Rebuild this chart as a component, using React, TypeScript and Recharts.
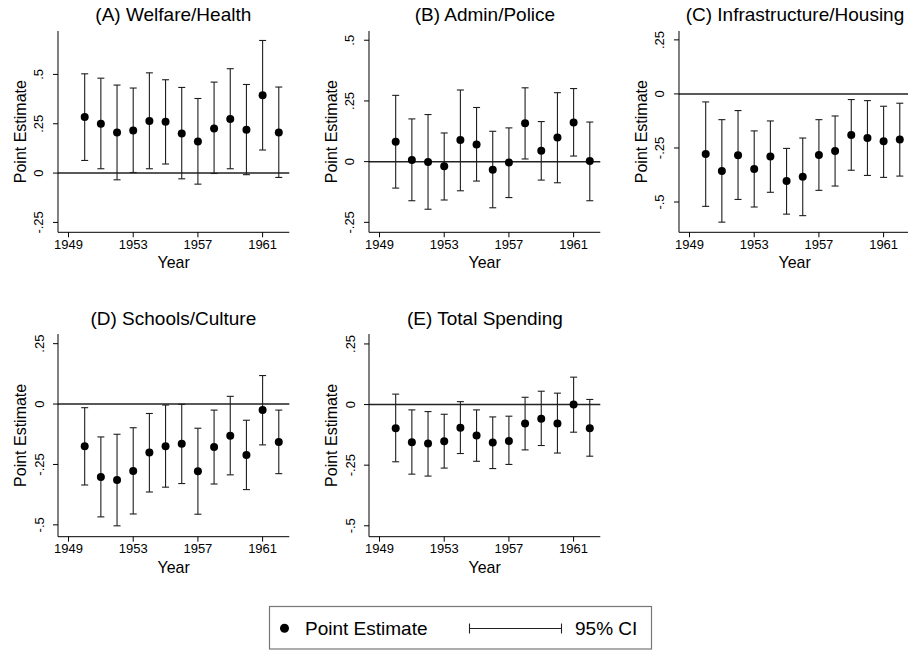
import React from 'react';
import { ScatterChart, Scatter, XAxis, YAxis, ErrorBar, ReferenceLine } from 'recharts';

// Years shared by every panel
const years = [1950, 1951, 1952, 1953, 1954, 1955, 1956, 1957, 1958, 1959, 1960, 1961, 1962];
const xTicks = [1949, 1953, 1957, 1961];

// (A) Welfare/Health
const estA = [0.284, 0.25, 0.206, 0.216, 0.264, 0.26, 0.201, 0.16, 0.226, 0.274, 0.22, 0.395, 0.206];
const loA = [0.064, 0.022, -0.034, 0.003, 0.022, 0.046, -0.029, -0.056, -0.002, 0.022, -0.008, 0.117, -0.022];
const hiA = [0.503, 0.481, 0.446, 0.431, 0.508, 0.473, 0.434, 0.378, 0.461, 0.529, 0.449, 0.672, 0.436];

// (B) Admin/Police
const estB = [0.082, 0.007, -0.001, -0.019, 0.089, 0.071, -0.033, -0.004, 0.158, 0.045, 0.099, 0.161, 0.003];
const loB = [-0.109, -0.161, -0.196, -0.158, -0.12, -0.08, -0.19, -0.148, 0.011, -0.076, -0.087, 0.023, -0.161];
const hiB = [0.273, 0.176, 0.194, 0.118, 0.295, 0.223, 0.125, 0.139, 0.304, 0.165, 0.284, 0.301, 0.163];

// (C) Infrastructure/Housing
const estC = [-0.278, -0.356, -0.284, -0.347, -0.29, -0.403, -0.383, -0.282, -0.264, -0.19, -0.204, -0.219, -0.211];
const loC = [-0.52, -0.593, -0.488, -0.523, -0.455, -0.556, -0.563, -0.446, -0.426, -0.353, -0.377, -0.386, -0.38];
const hiC = [-0.037, -0.119, -0.077, -0.171, -0.125, -0.252, -0.204, -0.119, -0.102, -0.026, -0.031, -0.057, -0.043];

// (D) Schools/Culture
const estD = [-0.175, -0.302, -0.314, -0.277, -0.2, -0.175, -0.164, -0.278, -0.178, -0.131, -0.211, -0.025, -0.157];
const loD = [-0.335, -0.467, -0.504, -0.455, -0.364, -0.344, -0.329, -0.456, -0.331, -0.293, -0.354, -0.169, -0.288];
const hiD = [-0.015, -0.136, -0.125, -0.098, -0.039, -0.004, -0.001, -0.1, -0.025, 0.032, -0.067, 0.118, -0.025];

// (E) Total Spending
const estE = [-0.098, -0.155, -0.161, -0.151, -0.096, -0.128, -0.157, -0.15, -0.078, -0.059, -0.078, 0.0, -0.098];
const loE = [-0.236, -0.287, -0.295, -0.262, -0.202, -0.234, -0.264, -0.247, -0.187, -0.169, -0.2, -0.114, -0.213];
const hiE = [0.043, -0.022, -0.029, -0.04, 0.012, -0.022, -0.051, -0.048, 0.03, 0.055, 0.047, 0.113, 0.021];

const ticksHigh = [-0.25, 0, 0.25, 0.5];
const ticksLow = [-0.5, -0.25, 0, 0.25];

const FONT = '"Liberation Sans", Arial, sans-serif';
const PLOT_W = 231.3;
const Y_AXIS_W = 58;
const X_AXIS_H = 48;

const panels = [
  { title: '(A) Welfare/Health', est: estA, lo: loA, hi: hiA, domain: [-0.30, 0.72], ticks: ticksHigh, plotLeft: 57.7, plotTop: 30.7, plotBottom: 232, titleTop: 5 },
  { title: '(B) Admin/Police', est: estB, lo: loB, hi: hiB, domain: [-0.291, 0.538], ticks: ticksHigh, plotLeft: 369.3, plotTop: 30.7, plotBottom: 232, titleTop: 5 },
  { title: '(C) Infrastructure/Housing', est: estC, lo: loC, hi: hiC, domain: [-0.64, 0.291], ticks: ticksLow, plotLeft: 679.3, plotTop: 30.7, plotBottom: 232, titleTop: 5 },
  { title: '(D) Schools/Culture', est: estD, lo: loD, hi: hiD, domain: [-0.549, 0.29], ticks: ticksLow, plotLeft: 57.7, plotTop: 334.3, plotBottom: 537, titleTop: 309 },
  { title: '(E) Total Spending', est: estE, lo: loE, hi: hiE, domain: [-0.545, 0.291], ticks: ticksLow, plotLeft: 369.3, plotTop: 334.3, plotBottom: 537, titleTop: 309 },
];

// Stata style: ".25", "-.5", "0"
const fmt = (v: number) => (v === 0 ? '0' : String(v).replace('0.', '.'));

const YTick = (props: any) => {
  const { x, y, payload } = props;
  return (
    <text transform={`translate(${x},${y}) rotate(-90)`} textAnchor="middle" fontSize={13} fontFamily={FONT} fill="#000">
      {fmt(payload.value)}
    </text>
  );
};

const XTick = (props: any) => {
  const { x, y, payload } = props;
  return (
    <text x={x} y={y + 9.5} textAnchor="middle" fontSize={13} fontFamily={FONT} fill="#000">
      {payload.value}
    </text>
  );
};

const Dot = (props: any) => <circle cx={props.cx} cy={props.cy} r={4} fill="#000" />;

function Panel({ p }: { p: typeof panels[number] }) {
  const data = years.map((year, i) => ({
    year,
    est: p.est[i],
    err: [p.est[i] - p.lo[i], p.hi[i] - p.est[i]],
  }));
  const chartLeft = p.plotLeft - Y_AXIS_W;
  const width = Y_AXIS_W + PLOT_W + 12;
  const height = p.plotBottom - p.plotTop + X_AXIS_H;

  return (
    <>
      <div
        style={{
          position: 'absolute',
          left: p.plotLeft,
          width: PLOT_W,
          top: p.titleTop,
          textAlign: 'center',
          fontFamily: FONT,
          fontSize: 19,
          lineHeight: '19px',
          whiteSpace: 'nowrap',
        }}
      >
        {p.title}
      </div>
      <div style={{ position: 'absolute', left: chartLeft, top: p.plotTop }}>
        <ScatterChart width={width} height={height} margin={{ top: 0, right: width - Y_AXIS_W - PLOT_W, bottom: 0, left: 0 }}>
          <XAxis
            type="number"
            dataKey="year"
            domain={[1948.35, 1962.65]}
            ticks={xTicks}
            allowDataOverflow
            height={X_AXIS_H}
            stroke="#000"
            tickSize={5}
            tick={<XTick />}
            label={{
              content: (lp: any) => {
                const vb = lp.viewBox;
                return (
                  <text x={vb.x + vb.width / 2} y={vb.y + 36} textAnchor="middle" fontSize={16} fontFamily={FONT} fill="#000">
                    Year
                  </text>
                );
              },
            }}
          />
          <YAxis
            type="number"
            dataKey="est"
            domain={p.domain}
            ticks={p.ticks}
            allowDataOverflow
            width={Y_AXIS_W}
            stroke="#000"
            tickSize={5}
            tickMargin={9.5}
            tick={<YTick />}
            label={{
              content: (lp: any) => {
                const vb = lp.viewBox;
                return (
                  <text
                    transform={`translate(${vb.x + 26},${vb.y + vb.height / 2}) rotate(-90)`}
                    textAnchor="middle"
                    fontSize={16}
                    fontFamily={FONT}
                    fill="#000"
                  >
                    Point Estimate
                  </text>
                );
              },
            }}
          />
          <ReferenceLine y={0} stroke="#222" strokeWidth={1.5} />
          <Scatter data={data} dataKey="est" shape={<Dot />} isAnimationActive={false}>
            <ErrorBar dataKey="err" direction="y" width={3.5} stroke="#1e1e1e" strokeWidth={1.1} isAnimationActive={false} />
          </Scatter>
        </ScatterChart>
      </div>
    </>
  );
}

function Legend() {
  return (
    <svg width={908} height={650} style={{ position: 'absolute', left: 0, top: 0, pointerEvents: 'none' }}>
      <rect x={269.5} y={606.5} width={382} height={42.5} fill="#fff" stroke="#777" strokeWidth={1.2} />
      <circle cx={284.5} cy={628.3} r={4.5} fill="#000" />
      <text x={305} y={635} fontSize={19} fontFamily={FONT} fill="#000">Point Estimate</text>
      <line x1={469.5} y1={628.5} x2={561.5} y2={628.5} stroke="#222" strokeWidth={1.1} />
      <line x1={469.5} y1={623.5} x2={469.5} y2={633.5} stroke="#222" strokeWidth={1.1} />
      <line x1={561.5} y1={623.5} x2={561.5} y2={633.5} stroke="#222" strokeWidth={1.1} />
      <text x={575} y={635} fontSize={19} fontFamily={FONT} fill="#000">95% CI</text>
    </svg>
  );
}

export default function App() {
  return (
    <div style={{ position: 'absolute', left: 0, top: 0, width: 908, height: 650, overflow: 'hidden', background: '#fff' }}>
      {panels.map((p) => (
        <Panel key={p.title} p={p} />
      ))}
      <Legend />
    </div>
  );
}
